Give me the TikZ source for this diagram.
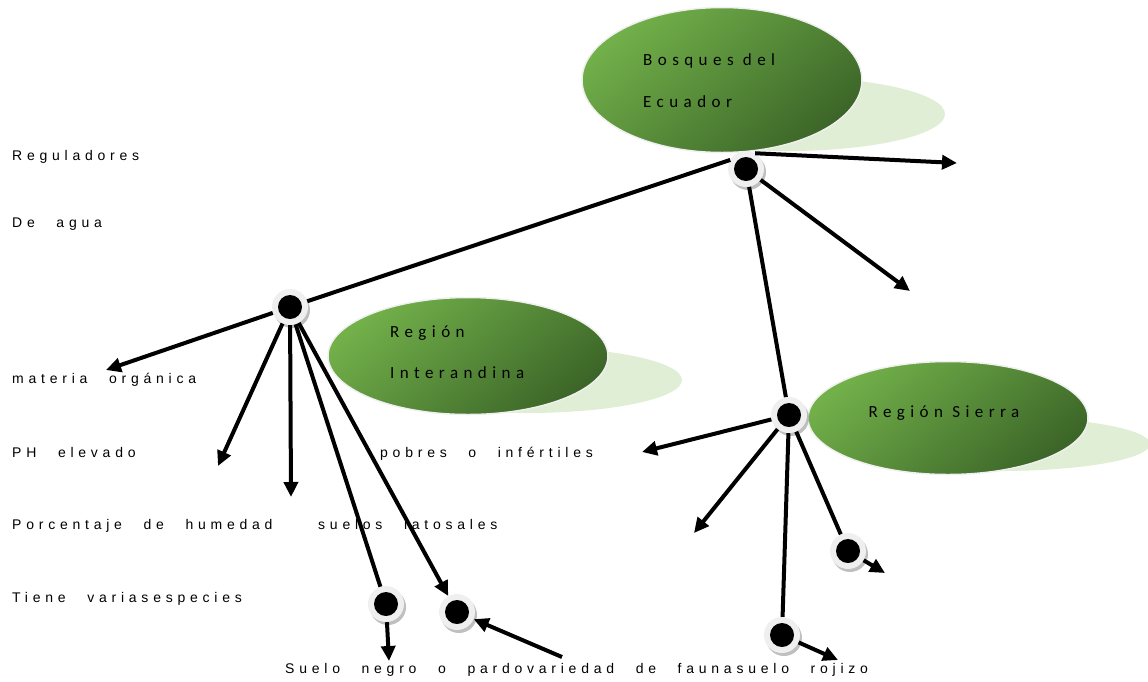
\documentclass[tikz,border=0pt]{standalone}
\usepackage{fontspec}
\setmainfont{Liberation Sans}
\newfontfamily\lblfont{Liberation Sans}[LetterSpace=34,WordSpace=2.5]
\newfontfamily\blobfont{Carlito}[LetterSpace=32]
\usetikzlibrary{shapes.geometric,arrows.meta,shadows}
\definecolor{glight}{HTML}{72B04A}
\definecolor{gdark}{HTML}{3C6628}
\definecolor{gshadow}{HTML}{E0EED6}
\definecolor{ring}{HTML}{EFEFEF}
\tikzset{
  blob/.style={ellipse, shade, top color=glight, bottom color=gdark, shading angle=40, draw=ring, line width=1.5pt, inner sep=0pt},
  blobshadow/.style={ellipse, fill=gshadow, inner sep=0pt},
  hub/.style={circle, minimum size=36pt, inner sep=0pt, fill=ring,
    drop shadow={shadow xshift=2pt, shadow yshift=-3pt, fill=black, opacity=0.25},
    path picture={\fill[black] (path picture bounding box.center) circle[radius=12pt];}},
  conn/.style={line width=4pt, black},
  arr/.style={conn, -{Triangle[length=15pt,width=14pt]}},
  lbl/.style={font=\lblfont\fontsize{14pt}{16pt}\selectfont, text=black, inner sep=0pt, anchor=base west},
  btxt/.style={font=\blobfont\fontsize{17pt}{19pt}\selectfont, text=black, inner sep=0pt},
}
\begin{document}
\begin{tikzpicture}[x=1pt,y=-1pt]
\useasboundingbox (0,0) rectangle (1148,681);
% ellipse shadows
\node[blobshadow, minimum width=316pt, minimum height=74pt] (S1) at (787,114) {};
\node[blobshadow, minimum width=310pt, minimum height=66pt] (S2) at (527,380) {};
\node[blobshadow, minimum width=300pt, minimum height=54pt] (S3) at (1000,444) {};
% ellipses
\node[blob, minimum width=280pt, minimum height=145pt] (E1) at (722,80) {};
\node[blob, minimum width=280pt, minimum height=117pt] (E2) at (468,356) {};
\node[blob, minimum width=280pt, minimum height=113pt] (E3) at (948,418) {};
\node[btxt, anchor=west] (e1a) at (643,61) {Bosques del};
\node[btxt, anchor=west] (e1b) at (643,102) {Ecuador};
\node[btxt, anchor=west] (e2a) at (390,333) {Región};
\node[btxt, anchor=west] (e2b) at (390,373) {Interandina};
\node[btxt] (e3a) at (944,413) {Región Sierra};
% labels
\node[lbl] (t1) at (12,160) {Reguladores};
\node[lbl] (t2) at (12,227) {De agua};
\node[lbl] (t3) at (12,383) {materia orgánica};
\node[lbl] (t4) at (12,457) {PH elevado};
\node[lbl] (t5) at (380,457) {pobres o infértiles};
\node[lbl] (t6) at (12,529) {Porcentaje de humedad};
\node[lbl] (t7) at (318,529) {suelos latosales};
\node[lbl] (t8) at (12,602) {Tiene variasespecies};
\node[lbl] (t9) at (285,673) {Suelo negro o pardovariedad de faunasuelo rojizo};
% free ends
\coordinate (a1) at (957,163);
\coordinate (a2) at (910,291);
\coordinate (a3) at (106,370);
\coordinate (a4) at (218,466);
\coordinate (a5) at (291,497);
\coordinate (a6) at (389,661);
\coordinate (c6) at (562,657);
\coordinate (a7) at (642,452);
\coordinate (a8) at (694,533);
\coordinate (a9) at (885,573);
\coordinate (a10) at (838,660);
% hubs
\node[hub] (H1) at (746,169) {};
\node[hub] (H2) at (290,307) {};
\node[hub] (H3) at (789,415) {};
\node[hub] (H4) at (848,551) {};
\node[hub] (H5) at (386,604) {};
\node[hub] (H6) at (457,612) {};
\node[hub] (H7) at (782,635) {};
% connectors
\draw[arr] (H1.60) -- (a1);
\draw[arr] (H1) -- (a2);
\draw[conn] (H1.150) -- (H2);
\draw[conn] (H1) -- (H3);
\draw[arr] (H2) -- (a3);
\draw[arr] (H2) -- (a4);
\draw[arr] (H2) -- (a5);
\draw[conn] (H2) -- (H5);
\draw[arr] (H2) -- (H6);
\draw[arr] (H5) -- (a6);
\draw[arr] (c6) -- (H6);
\draw[arr] (H3) -- (a7);
\draw[arr] (H3) -- (a8);
\draw[conn] (H3) -- (H7);
\draw[conn] (H3) -- (H4);
\draw[arr] (H4) -- (a9);
\draw[arr] (H7) -- (a10);
\end{tikzpicture}
\end{document}
